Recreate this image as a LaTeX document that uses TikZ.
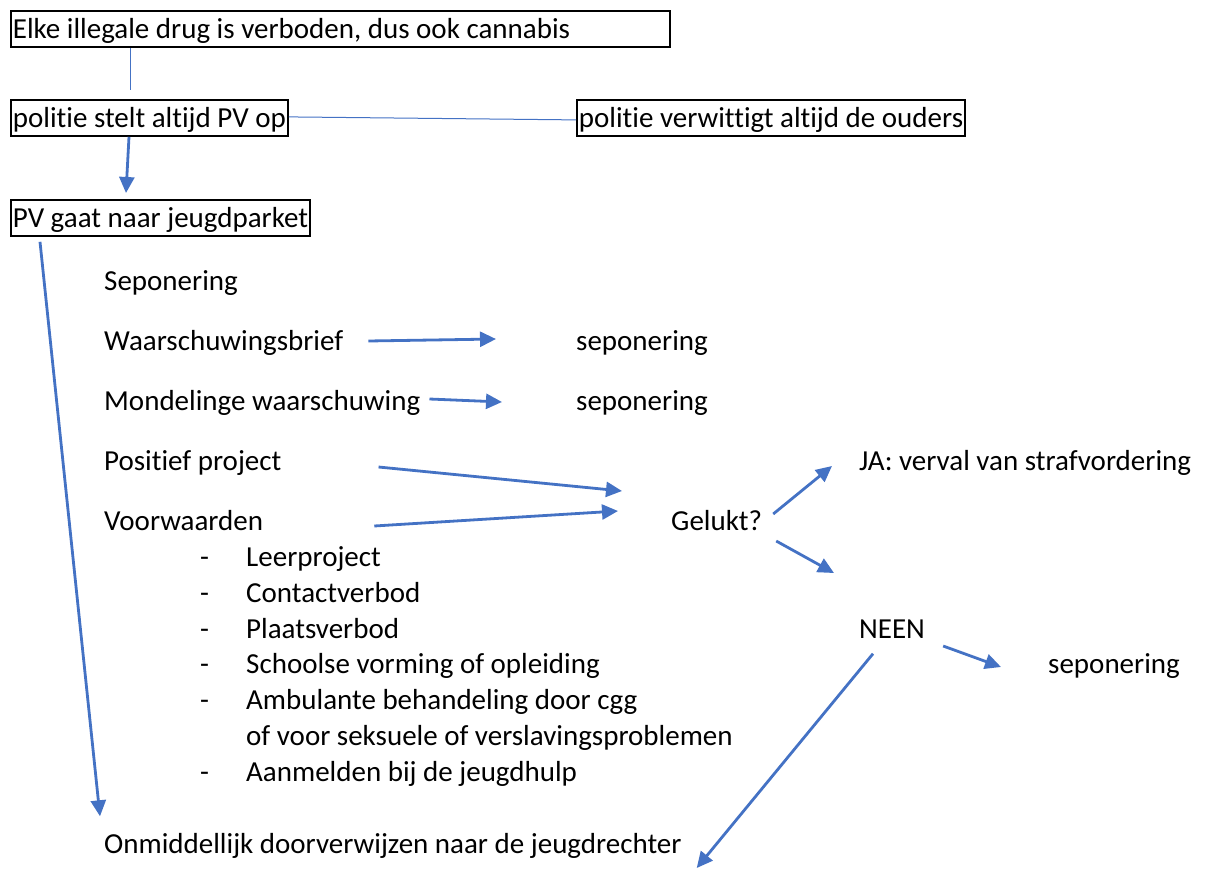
\documentclass[tikz,border=0pt]{standalone}
\usepackage{fontspec}
\setmainfont[Ligatures=NoCommon]{Carlito}
\usetikzlibrary{arrows.meta}
\definecolor{wordblue}{HTML}{4472C4}
\begin{document}
\begin{tikzpicture}[x=1pt,y=-1pt,
  txt/.style={anchor=west,inner sep=0pt,text height=24pt,text depth=3pt,font=\fontsize{29}{35}\selectfont},
  box/.style={txt,draw,line width=1.8pt,text height=23pt,text depth=4pt,inner xsep=2pt,inner ysep=4.5pt,anchor=north west},
  thinline/.style={wordblue,line width=1pt},
  arr/.style={wordblue,line width=2.8pt,-{Triangle[length=16pt,width=15pt]}}]
\useasboundingbox (0,0) rectangle (1207,870);
% boxes on top
\node[box] (drug) at (10,10) {\makebox[655pt][l]{Elke illegale drug is verboden, dus ook cannabis}};
\node[box] (pv) at (10,99) {politie stelt altijd PV op};
\node[box] (ouders) at (576,99) {politie verwittigt altijd de ouders};
\node[box] (parket) at (10,199) {PV gaat naar jeugdparket};
\draw[thinline,shorten >=9pt] ([xshift=120pt]drug.south west) -- ([xshift=120pt]pv.north west);
\draw[thinline] ([yshift=1pt]pv.east) -- ([yshift=-2pt]ouders.west);
\draw[arr] ([xshift=119pt]pv.south west) -- ([xshift=116pt,yshift=6pt]parket.north west);
% options of the parket
\node[txt] (sepo) at (104,280) {Seponering};
\node[txt] (brief) at (104,340) {Waarschuwingsbrief};
\node[txt] (sepbrief) at (576,340) {seponering};
\node[txt] (mond) at (104,400) {Mondelinge waarschuwing};
\node[txt] (sepmond) at (576,400) {seponering};
\node[txt] (proj) at (104,460) {Positief project};
\node[txt] (voorw) at (104,520) {Voorwaarden};
\node[txt] (gelukt) at (671,520) {Gelukt?};
\node[txt] (ja) at (859,460) {JA: verval van strafvordering};
\node[txt] (neen) at (859,628) {NEEN};
\node[txt] (sepneen) at (1048,663) {seponering};
\node[txt] (rechter) at (104,843) {Onmiddellijk doorverwijzen naar de jeugdrechter};
\foreach \y in {556,592,628,663,699,771}
  \node[txt] (dash\y) at (200,\y) {-};
\foreach \y/\item [count=\i] in {556/Leerproject,592/Contactverbod,628/Plaatsverbod,
    663/Schoolse vorming of opleiding,699/Ambulante behandeling door cgg,
    735/of voor seksuele of verslavingsproblemen,771/Aanmelden bij de jeugdhulp}
  \node[txt] (cond\i) at (246,\y) {\item};
% arrows
\draw[arr] ([xshift=30pt,yshift=-5pt]parket.south west) -- ([xshift=-4pt,yshift=13pt]rechter.north west);
\draw[arr] ([xshift=25pt,yshift=-1pt]brief.east) -- ([xshift=-80pt,yshift=1pt]sepbrief.west);
\draw[arr] ([xshift=9pt,yshift=1pt]mond.east) -- ([xshift=-74pt,yshift=-2pt]sepmond.west);
\draw[arr] ([xshift=97pt,yshift=-7pt]proj.east) -- ([xshift=-49pt,yshift=29pt]gelukt.west);
\draw[arr] ([xshift=111pt,yshift=-6pt]voorw.east) -- ([xshift=-53pt,yshift=9pt]gelukt.west);
\draw[arr] ([xshift=11pt,yshift=6pt]gelukt.east) -- ([xshift=-27pt,yshift=-6pt]ja.west);
\draw[arr] ([xshift=14pt,yshift=-21pt]gelukt.east) -- ([xshift=-25pt,yshift=55pt]neen.west);
\draw[arr] ([xshift=18pt,yshift=-18pt]neen.east) -- ([xshift=-47pt,yshift=-4pt]sepneen.west);
\draw[arr] ([xshift=14pt,yshift=-12pt]neen.south west) -- ([xshift=15pt,yshift=-25pt]rechter.east);
\end{tikzpicture}
\end{document}
